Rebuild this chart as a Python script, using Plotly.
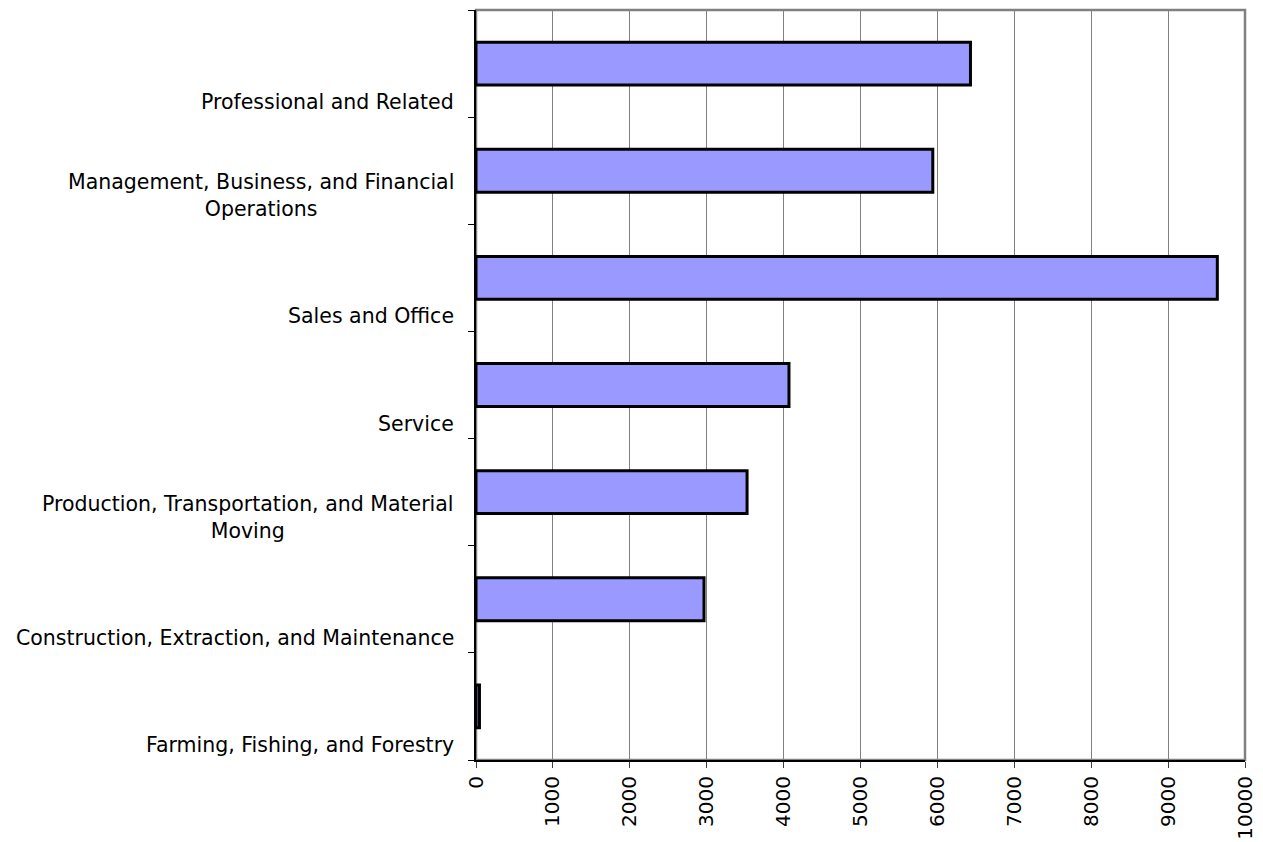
import plotly.graph_objects as go

# Datos (de abajo hacia arriba)
categorias = [
    'Farming, Fishing, and Forestry',
    'Construction, Extraction, and Maintenance',
    'Production, Transportation, and Material<br>Moving',
    'Service',
    'Sales and Office',
    'Management, Business, and Financial<br>Operations',
    'Professional and Related',
]
valores = [45, 2965, 3525, 4070, 9640, 5940, 6430]
ticks_x = [0, 1000, 2000, 3000, 4000, 5000, 6000, 7000, 8000, 9000, 10000]

fuente = 'DejaVu Sans, sans-serif'
posiciones = [i + 0.5 for i in range(len(categorias))]

fig = go.Figure()
fig.add_trace(go.Bar(
    x=valores, y=posiciones, orientation='h', width=0.4,
    marker=dict(color='#9999FF', line=dict(color='black', width=3)),
    showlegend=False,
))

# Etiquetas de categoría alineadas al borde inferior de cada banda
for i, cat in enumerate(categorias):
    fig.add_annotation(
        x=0, xref='paper', xanchor='right', xshift=-20,
        y=i, yref='y', yanchor='bottom', yshift=1,
        text=cat, showarrow=False, align='center',
        font=dict(family=fuente, size=20.5, color='black'),
    )

# Borde gris del área de trazado
fig.add_shape(type='rect', xref='paper', yref='paper', x0=0, x1=1, y0=0, y1=1,
              line=dict(color='#808080', width=2.5), layer='below')

fig.update_layout(
    width=1255, height=834,
    margin=dict(l=468, r=18, t=2, b=82),
    plot_bgcolor='white', paper_bgcolor='white',
    font=dict(family=fuente, size=20, color='black'),
    xaxis=dict(
        range=[0, 10000], tickvals=ticks_x, ticktext=[str(t) for t in ticks_x],
        tickangle=-90, tickfont=dict(size=20),
        showgrid=True, gridcolor='#808080', gridwidth=1,
        showline=True, linecolor='black', linewidth=2,
        ticks='outside', ticklen=6, tickcolor='#404040',
        zeroline=False,
    ),
    yaxis=dict(
        range=[0, len(categorias)], tickvals=list(range(len(categorias) + 1)),
        showticklabels=False, showgrid=False, zeroline=False,
        showline=True, linecolor='black', linewidth=2,
        ticks='outside', ticklen=6, tickcolor='black',
    ),
)

fig.write_html('out.html')
